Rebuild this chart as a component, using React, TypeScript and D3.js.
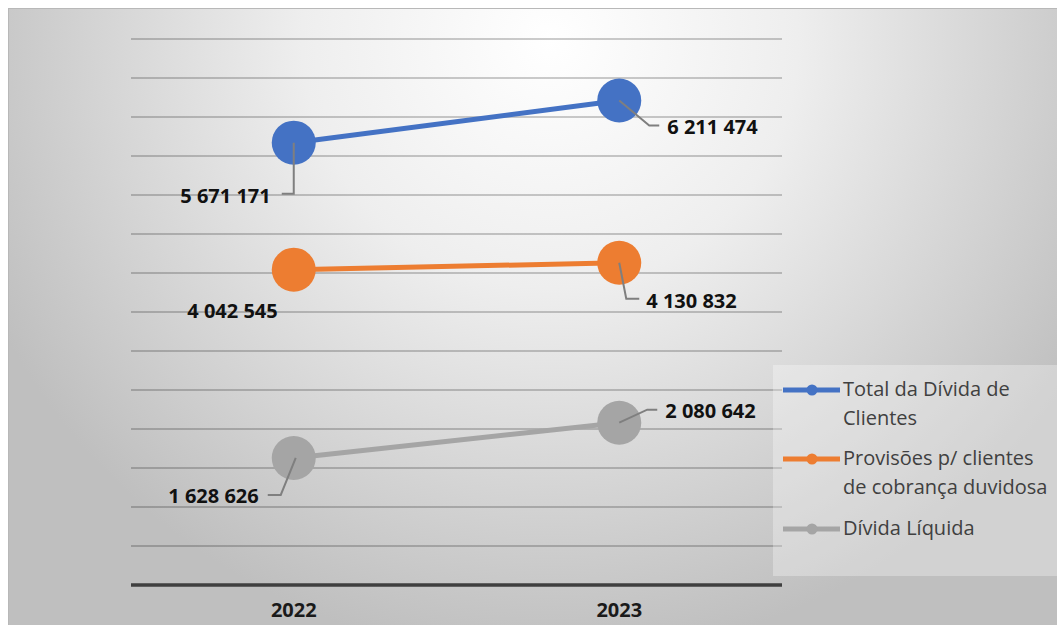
import React, { useEffect, useRef } from "react";
import * as d3 from "d3";

const categories = ["2022", "2023"];
const seriesNames = [
  "Total da Dívida de Clientes",
  "Provisões p/ clientes de cobrança duvidosa",
  "Dívida Líquida",
];
const totalDivida = [5671171, 6211474];
const provisoes = [4042545, 4130832];
const dividaLiquida = [1628626, 2080642];
const legendLines = [
  ["Total da Dívida de", "Clientes"],
  ["Provisões p/ clientes", "de cobrança duvidosa"],
  ["Dívida Líquida"],
];
const yMax = 7000000;
const yStep = 500000;

const colors = ["#4472C4", "#ED7D31", "#A5A5A5"];
const labelPlacement = [
  [
    { anchor: "end", dx: -23, dy: 60, leader: [[0, 0], [0, 51], [-12, 51]] },
    { anchor: "start", dx: 48, dy: 33, leader: [[0, 0], [30, 25], [40, 25]] },
  ],
  [
    { anchor: "end", dx: -16, dy: 48, leader: null },
    { anchor: "start", dx: 27, dy: 45, leader: [[0, 0], [7, 36], [20, 36]] },
  ],
  [
    { anchor: "end", dx: -35, dy: 45, leader: [[2, 0], [-13, 37], [-26, 37]] },
    { anchor: "start", dx: 46, dy: -5, leader: [[0, 0], [28, -13], [38, -13]] },
  ],
];

const fmt = (v: number) => d3.format(",")(v).replace(/,/g, " ");

export default function App() {
  const ref = useRef<SVGSVGElement>(null);
  useEffect(() => {
    const svg = d3.select(ref.current);
    svg.selectAll("*").remove();
    const W = 1057, H = 625;
    const defs = svg.append("defs");
    const rg = defs
      .append("radialGradient")
      .attr("id", "bg")
      .attr("gradientUnits", "userSpaceOnUse")
      .attr("cx", 550)
      .attr("cy", 40)
      .attr("r", 620);
    rg.append("stop").attr("offset", 0).attr("stop-color", "#ffffff");
    rg.append("stop").attr("offset", 0.4).attr("stop-color", "#eeeeee");
    rg.append("stop").attr("offset", 1).attr("stop-color", "#bfbfbf");

    svg.append("rect").attr("width", W).attr("height", H).attr("fill", "#fff");
    svg
      .append("rect")
      .attr("x", 8.5)
      .attr("y", 8.5)
      .attr("width", W)
      .attr("height", H)
      .attr("fill", "url(#bg)")
      .attr("stroke", "#b8b8b8")
      .attr("stroke-width", 1);

    const left = 131, right = 782, top = 39, bottom = 585;
    const x = d3.scaleBand().domain(categories).range([left, right]);
    const y = d3.scaleLinear().domain([0, yMax]).range([bottom, top]);
    const ticks = d3.range(yStep, yMax + 1, yStep);

    svg
      .append("g")
      .selectAll("line")
      .data(ticks)
      .join("line")
      .attr("x1", left)
      .attr("x2", right)
      .attr("y1", (d) => y(d))
      .attr("y2", (d) => y(d))
      .attr("stroke", "#000")
      .attr("stroke-opacity", 0.2)
      .attr("stroke-width", 2);

    svg
      .append("line")
      .attr("x1", left)
      .attr("x2", right)
      .attr("y1", y(0))
      .attr("y2", y(0))
      .attr("stroke", "#3f3f3f")
      .attr("stroke-width", 3.5);

    svg
      .append("g")
      .selectAll("text")
      .data(categories)
      .join("text")
      .attr("x", (d) => (x(d) as number) + x.bandwidth() / 2)
      .attr("y", 617)
      .attr("text-anchor", "middle")
      .attr("font-family", "'Open Sans', sans-serif")
      .attr("font-weight", 700)
      .attr("font-size", 20)
      .attr("fill", "#1a1a1a")
      .text((d) => d);

    const allSeries = [totalDivida, provisoes, dividaLiquida];
    const cx = (i: number) => (x(categories[i]) as number) + x.bandwidth() / 2;
    const line = d3
      .line<number>()
      .x((_, i) => cx(i))
      .y((d) => y(d));

    allSeries.forEach((vals, s) => {
      const g = svg.append("g");
      g.append("path")
        .attr("d", line(vals))
        .attr("fill", "none")
        .attr("stroke", colors[s])
        .attr("stroke-width", 5);
      g.selectAll("circle")
        .data(vals)
        .join("circle")
        .attr("cx", (_, i) => cx(i))
        .attr("cy", (d) => y(d))
        .attr("r", 22)
        .attr("fill", colors[s]);
    });

    allSeries.forEach((vals, s) => {
      vals.forEach((v, i) => {
        const p = labelPlacement[s][i];
        const px = cx(i), py = y(v);
        if (p.leader) {
          svg
            .append("path")
            .attr(
              "d",
              d3.line()(p.leader.map(([a, b]) => [px + a, py + b]) as [number, number][])
            )
            .attr("fill", "none")
            .attr("stroke", "#7f7f7f")
            .attr("stroke-width", 2);
        }
        svg
          .append("text")
          .attr("x", px + p.dx)
          .attr("y", py + p.dy)
          .attr("text-anchor", p.anchor)
          .attr("font-family", "'Open Sans', sans-serif")
          .attr("font-weight", 700)
          .attr("font-size", 20)
          .attr("fill", "#111")
          .text(fmt(v));
      });
    });

    const lg = svg.append("g");
    lg.append("rect")
      .attr("x", 773)
      .attr("y", 365)
      .attr("width", 290)
      .attr("height", 211)
      .attr("fill", "#fff")
      .attr("fill-opacity", 0.3);
    const rowBase = [396, 465, 535];
    seriesNames.forEach((name, s) => {
      const by = rowBase[s];
      lg.append("line")
        .attr("x1", 783)
        .attr("x2", 840)
        .attr("y1", by - 6)
        .attr("y2", by - 6)
        .attr("stroke", colors[s])
        .attr("stroke-width", 5);
      lg.append("circle")
        .attr("cx", 812)
        .attr("cy", by - 6)
        .attr("r", 5.5)
        .attr("fill", colors[s]);
      const t = lg
        .append("text")
        .attr("x", 843)
        .attr("y", by)
        .attr("font-family", "'Open Sans', sans-serif")
        .attr("font-size", 20)
        .attr("fill", "#404040");
      t.append("title").text(name);
      legendLines[s].forEach((ln, k) => {
        t.append("tspan").attr("x", 843).attr("dy", k === 0 ? 0 : 29).text(ln);
      });
    });
  }, []);
  return (
    <svg
      ref={ref}
      width={1057}
      height={625}
      style={{ position: "fixed", left: 0, top: 0, display: "block" }}
    />
  );
}
